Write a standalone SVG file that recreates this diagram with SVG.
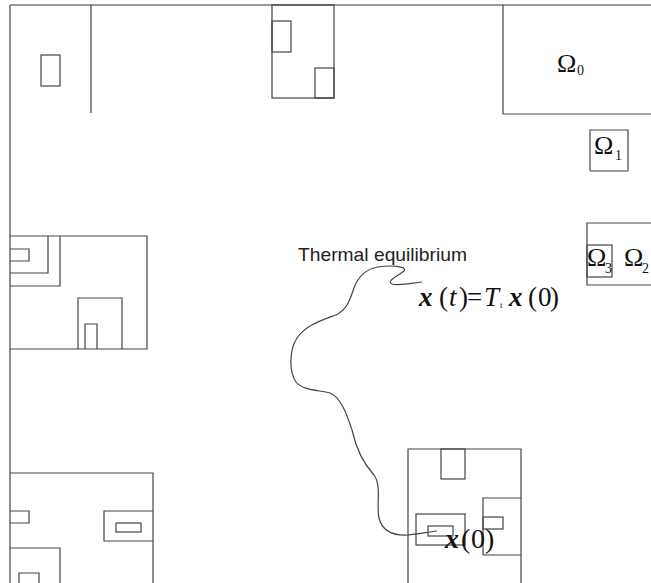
<svg xmlns="http://www.w3.org/2000/svg" width="651" height="583" viewBox="0 0 651 583">
<style>
.ln{fill:none;stroke:#444;stroke-width:1.2}
.bd{fill:none;stroke:#999;stroke-width:2}
.sans{font-family:"Liberation Sans",Arial,sans-serif;fill:#222}
.ser{font-family:"Liberation Serif","Times New Roman",serif;fill:#111}
.bi{font-weight:bold;font-style:italic}
.it{font-style:italic}
</style>
<rect x="0" y="0" width="651" height="583" fill="#fff"/>
<g id="frame">
<line class="bd" x1="10" y1="5" x2="651" y2="5"/>
<line class="ln" x1="10" y1="5" x2="10" y2="583"/>
</g>
<g id="box-topleft">
<polyline class="ln" points="91,5 91,113"/>
<rect class="ln" x="41" y="55" width="19" height="31"/>
</g>
<g id="box-topmid">
<rect class="ln" x="272" y="5" width="62" height="93"/>
<rect class="ln" x="272" y="21" width="19" height="31"/>
<rect class="ln" x="315" y="68" width="19" height="30"/>
</g>
<g id="omega0">
<polyline class="ln" points="503,5 503,114 651,114"/>
<text class="ser" x="557" y="72" font-size="26">Ω<tspan x="577" y="75" font-size="14">0</tspan></text>
</g>
<g id="omega1">
<polyline class="ln" points="590,171 590,130 628,130 628,171"/>
<line class="bd" x1="590" y1="171" x2="628" y2="171"/>
<text class="ser" x="594" y="154" font-size="26">Ω<tspan x="615" y="160" font-size="14">1</tspan></text>
</g>
<g id="omega2">
<polyline class="ln" points="651,223 587,223 587,285 651,285"/>
<text class="ser" x="624" y="266" font-size="26">Ω<tspan x="642" y="273" font-size="14">2</tspan></text>
</g>
<g id="omega3">
<rect class="ln" x="587" y="245" width="25" height="32"/>
<text class="ser" x="587" y="266" font-size="26">Ω<tspan x="605" y="273" font-size="14">3</tspan></text>
</g>
<g id="box-leftmid">
<polyline class="ln" points="10,236 147,236 147,349 10,349"/>
<polyline class="ln" points="10,286 60,286 60,236"/>
<polyline class="ln" points="10,273 48,273 48,236"/>
<polyline class="ln" points="10,249 29,249 29,261 10,261"/>
<polyline class="ln" points="78,349 78,298 122,298 122,349"/>
<polyline class="ln" points="85,349 85,324 97,324 97,349"/>
</g>
<g id="box-bottomleft">
<polyline class="ln" points="10,473 153,473 153,583"/>
<polyline class="ln" points="10,511 29,511 29,523 10,523"/>
<polyline class="ln" points="153,511 104,511 104,541 153,541"/>
<rect class="ln" x="116" y="523" width="25" height="9"/>
<polyline class="ln" points="10,548 60,548 60,583"/>
<polyline class="ln" points="19,583 19,573 39,573 39,583"/>
</g>
<g id="box-bottomright">
<polyline class="ln" points="408,583 408,449 521,449 521,583"/>
<rect class="ln" x="441" y="449" width="24" height="30"/>
<polyline class="ln" points="521,498 483,498 483,555 521,555"/>
<rect class="ln" x="483" y="517" width="20" height="12"/>
<rect class="ln" x="416" y="514" width="49" height="31"/>
<rect class="ln" x="428" y="526" width="25" height="10"/>
<text class="ser" x="445" y="548" font-size="28"><tspan class="bi">x</tspan><tspan x="461">(</tspan><tspan x="471">0</tspan><tspan x="485">)</tspan></text>
</g>
<g id="label-thermal">
<text class="sans" x="298" y="261" font-size="19" textLength="169" lengthAdjust="spacingAndGlyphs">Thermal equilibrium</text>
</g>
<g id="label-eq">
<text class="ser" x="419" y="306" font-size="27"><tspan class="bi">x</tspan><tspan x="439">(</tspan><tspan x="449" class="it">t</tspan><tspan x="459">)</tspan><tspan x="467">=</tspan><tspan x="484" class="it">T</tspan><tspan x="500" y="308" font-size="9">t</tspan><tspan x="509" y="306" class="bi">x</tspan><tspan x="528">(</tspan><tspan x="538">0</tspan><tspan x="550">)</tspan></text>
</g>
<g id="connectors">
<path class="ln" d="M422,282 C412,283 398,286 392,284 C386,281 398,276 404,271 C408,266 390,265 378,267 C366,269 358,277 354,288 C350,299 348,308 338,314 C326,319 306,324 297,338 C289,350 289,372 296,382 C302,390 318,390 330,393 C342,398 348,418 352,430 C356,448 362,462 374,475 C382,486 376,505 379,518 C382,530 392,536 408,535 C418,534 428,532 437,531"/>
</g>
</svg>
